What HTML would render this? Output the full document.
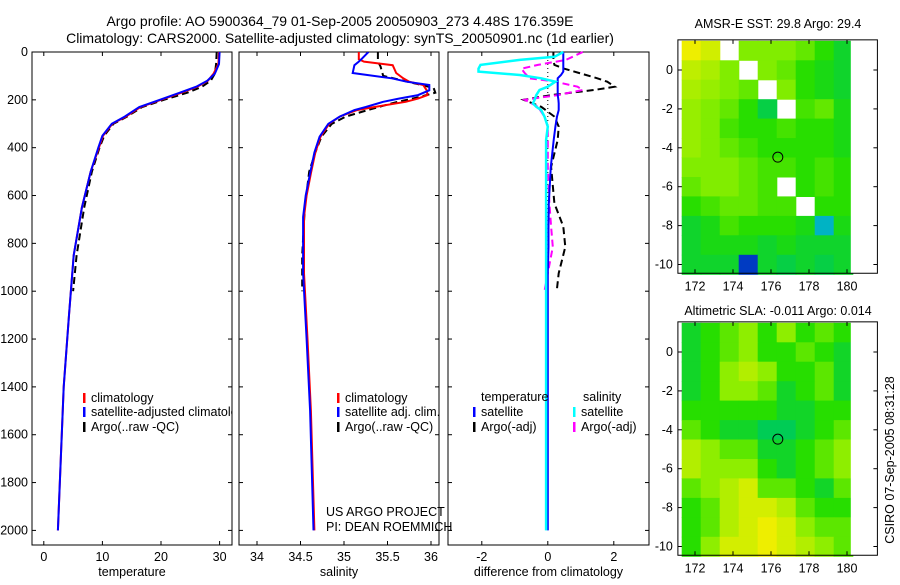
<!DOCTYPE html>
<html><head><meta charset="utf-8"><style>
body{margin:0;background:#fff;}
svg text{font-family:"Liberation Sans",sans-serif;font-size:12.5px;fill:#000;}
</style></head><body>
<svg id="fig" width="900" height="580" viewBox="0 0 900 580">
<text x="340" y="26" text-anchor="middle" style="font-size:14px">Argo profile: AO 5900364_79 01-Sep-2005 20050903_273 4.48S 176.359E</text>
<text x="340" y="43" text-anchor="middle" style="font-size:14px">Climatology: CARS2000. Satellite-adjusted climatology: synTS_20050901.nc (1d earlier)</text>
<g id="g1"></g>
<g id="g2"></g>
<g id="g3"></g>
<g id="m1"></g>
<g id="m2"></g>
<text transform="translate(894,460) rotate(-90)" text-anchor="middle">CSIRO 07-Sep-2005 08:31:28</text>
</svg>
<script>
// ---- data ----
const depthTicks=[0,200,400,600,800,1000,1200,1400,1600,1800,2000];
const tDepth=[0,50,90,120,145,170,200,230,270,300,350,400,500,650,850,1100,1400,1700,2000];
const tClim=[29.9,29.8,29.0,28.0,26.2,23.5,20.0,16.5,14.0,11.7,10.1,9.4,8.0,6.5,5.1,4.3,3.4,2.9,2.4];
const tSat=[30.0,29.9,29.2,27.9,26.0,23.2,19.8,16.3,13.8,11.6,10.0,9.3,8.0,6.5,5.1,4.3,3.4,2.9,2.4];
const aDepth=[0,50,90,120,145,170,200,230,270,300,350,400,500,650,850,1000];
const tArgo=[29.5,29.4,29.2,28.5,27.0,24.5,20.5,16.8,14.2,11.9,10.3,9.5,8.2,6.9,5.6,5.0];
const sDepth=[0,30,40,55,88,110,124,138,160,180,195,208,230,243,270,300,354,420,507,600,690,925,1200,1500,2000];
const sClim=[35.17,35.17,35.23,35.56,35.6,35.68,35.75,35.91,35.95,35.96,35.85,35.71,35.35,35.15,34.95,34.83,34.73,34.67,34.62,34.57,34.54,34.54,34.58,34.62,34.66];
const sSat=[35.28,35.2,35.17,35.12,35.1,35.55,35.72,35.98,35.98,35.85,35.63,35.45,35.25,35.12,34.95,34.82,34.72,34.66,34.61,34.56,34.53,34.53,34.57,34.61,34.65];
const saDepth=[0,40,60,100,130,150,170,190,210,240,270,300,354,420,500,650,850,1000];
const sArgo=[35.39,35.39,35.42,35.45,35.8,36.03,36.05,35.85,35.6,35.3,35.02,34.86,34.74,34.67,34.6,34.55,34.52,34.52];
const dDepth=[0,20,33,54,70,82,96,110,124,145,159,180,200,215,229,243,270,312,368,480,633,730,815,925,1000,1500,2000];
const dTsat=[0.47,0.47,0.47,0.47,0.47,0.47,0.4,0.3,0.3,0.3,0.3,0.3,0.32,0.33,0.33,0.33,0.28,0.23,0.18,0.09,0.03,0.02,0.02,0,0,0,0];
const dSsat=[0.47,0.2,-0.85,-2.04,-2.1,-2.1,-0.85,-0.2,0.23,0,-0.25,-0.35,-0.4,-0.45,-0.35,-0.2,-0.1,0,-0.05,-0.05,-0.05,-0.05,-0.05,-0.05,-0.05,-0.05,-0.05];
const daDepth=[0,33,54,70,88,110,124,145,159,180,200,229,270,312,368,480,633,730,815,925,1000];
const dTargo=[0.17,0.17,0.2,0.5,0.95,1.5,1.8,2.03,1.4,0.1,-0.73,-0.2,0.2,0.33,0.3,0.1,0.2,0.47,0.53,0.33,0.27];
const dSargo=[1.06,0.55,-0.3,-0.8,-0.7,-0.55,0.23,0.9,1.06,0.3,-0.7,-0.3,-0.1,0,0,0,0.05,0.1,0.15,0,-0.1];
const tTicks=[0,10,20,30];
const sTicks=[34,34.5,35,35.5,36];
const dTicks=[-2,0,2];
const lonTicks=[172,174,176,178,180];
const latTicks=[0,-2,-4,-6,-8,-10];
const gridLon=[171.3,172.3,173.3,174.3,175.3,176.3,177.3,178.3,179.3];
const gridLat=[1.5,0.5,-0.5,-1.5,-2.5,-3.5,-4.5,-5.5,-6.5,-7.5,-8.5,-9.5];
const sstGrid=[
[30.5,30.3,null,29.9,29.9,29.9,29.8,29.6,29.4],
[30.2,30.1,29.9,null,29.9,29.8,29.6,29.5,29.4],
[30.1,30.0,29.9,29.8,null,29.9,29.6,29.5,29.4],
[30.0,29.9,29.8,29.6,29.3,null,29.7,29.8,29.5],
[30.0,29.9,29.7,29.6,29.6,29.7,29.6,29.6,29.5],
[30.0,29.9,29.8,29.7,29.6,29.6,29.6,29.6,29.5],
[29.9,29.9,29.9,29.8,29.7,29.7,29.6,29.7,29.6],
[29.8,29.9,29.9,29.8,29.7,null,29.6,29.7,29.6],
[29.6,29.7,29.8,29.8,29.7,29.7,null,29.6,29.6],
[29.4,29.5,29.7,29.6,29.6,29.6,29.5,28.9,29.5],
[29.4,29.5,29.5,29.5,29.4,29.5,29.4,29.4,29.4],
[29.4,29.4,29.4,28.4,29.4,29.3,29.4,29.3,29.4]];
const slaGrid=[
[-0.01,0,0.01,0.02,0,0.02,0,0.01,0],
[-0.01,0,0.01,0.02,0,0,0.01,0,-0.01],
[-0.01,0,0.02,0.03,0.02,0,0,0.01,-0.01],
[-0.01,0,0.02,0.02,0.01,-0.01,0,0.01,-0.01],
[0,0,0,0,0,-0.01,-0.01,0,0],
[0.01,0,-0.01,-0.01,-0.02,-0.02,-0.01,0,0.01],
[0.03,0.02,0.01,0.01,-0.01,-0.01,0,0.01,0.02],
[0.03,0.02,0.02,0.02,0,-0.01,0,0.01,0.02],
[0.01,0.02,0.03,0.04,0.01,0.01,0,-0.01,0.01],
[0,0.01,0.03,0.04,0.04,0.03,0.01,0,0],
[0,0.01,0.03,0.04,0.05,0.04,0.02,0.01,0.01],
[0,0.02,0.04,0.04,0.05,0.04,0.03,0.02,0.01]];
const floatLon=176.359, floatLat=-4.48;

// ---- helpers ----
const NS='http://www.w3.org/2000/svg';
function mk(tag,attrs,parent){const e=document.createElementNS(NS,tag);for(const k in attrs)e.setAttribute(k,attrs[k]);parent.appendChild(e);return e;}
const Y=d=>52+d*0.2392;
function panel(g,x0,x1,X,ticks,fmt,label,showY){
  const f=mk('rect',{x:x0,y:52,width:x1-x0,height:545-52,fill:'none',stroke:'#000','stroke-width':1},g);
  
  
  depthTicks.forEach(d=>{
    mk('line',{x1:x0,x2:x0+4,y1:Y(d),y2:Y(d),stroke:'#000'},g);
    mk('line',{x1:x1-4,x2:x1,y1:Y(d),y2:Y(d),stroke:'#000'},g);
    if(showY){const t=mk('text',{x:x0-4,y:Y(d)+4,'text-anchor':'end'},g);t.textContent=d;
      
      }
  });
  ticks.forEach(v=>{
    mk('line',{x1:X(v),x2:X(v),y1:545,y2:541,stroke:'#000'},g);
    mk('line',{x1:X(v),x2:X(v),y1:52,y2:56,stroke:'#000'},g);
    const t=mk('text',{x:X(v),y:561,'text-anchor':'middle'},g);t.textContent=fmt(v);
    
    
  });
  const l=mk('text',{x:(x0+x1)/2,y:576,'text-anchor':'middle'},g);l.textContent=label;
  
  
}
function line(g,X,depths,vals,color,dash,w,name){
  const p=depths.map((d,i)=>X(vals[i]).toFixed(1)+','+Y(d).toFixed(1)).join(' ');
  const e=mk('polyline',{points:p,fill:'none',stroke:color,'stroke-width':w||2,'stroke-dasharray':dash||'none'},g);
  
  
}
function legend(g,x,y,color,txt,name){
  mk('rect',{x:x,y:y-9,width:2.5,height:10,fill:color},g);
  const t=mk('text',{x:x+8,y:y},g);t.textContent=txt;
  
  
}
// panel 1
const g1=document.getElementById('g1');
const X1=v=>43.8+v*5.86;
const c1=mk('clipPath',{id:'c1'},g1);mk('rect',{x:32,y:52,width:200,height:493},c1);
panel(g1,32,232,X1,tTicks,v=>v,'temperature',true);
const l1=mk('g',{'clip-path':'url(#c1)'},g1);
line(l1,X1,aDepth,tArgo,'#000','7,4',2,'temp-argo-line');
line(l1,X1,tDepth,tClim,'#f00','',2,'temp-climatology-line');
line(l1,X1,tDepth,tSat,'#00f','',2,'temp-satellite-line');
legend(l1,83,402,'#f00','climatology','legend-climatology');
legend(l1,83,416,'#00f','satellite-adjusted climatology','legend-satellite-adjusted');
legend(l1,83,431,'#000','Argo(..raw -QC)','legend-argo');
// panel 2
const g2=document.getElementById('g2');
const X2=v=>257+(v-34)*87;
const c2=mk('clipPath',{id:'c2'},g2);mk('rect',{x:239,y:52,width:200,height:493},c2);
panel(g2,239,439,X2,sTicks,v=>v,'salinity',false);
const l2=mk('g',{'clip-path':'url(#c2)'},g2);
line(l2,X2,saDepth,sArgo,'#000','7,4',2,'sal-argo-line');
line(l2,X2,sDepth,sClim,'#f00','',2,'sal-climatology-line');
line(l2,X2,sDepth,sSat,'#00f','',2,'sal-satellite-line');
legend(l2,337,402,'#f00','climatology','legend-climatology');
legend(l2,337,416,'#00f','satellite adj. clim.','legend-satellite-adj');
legend(l2,337,431,'#000','Argo(..raw -QC)','legend-argo');
const pt=mk('text',{x:326,y:516},g2);pt.textContent='US ARGO PROJECT';


const pi=mk('text',{x:326,y:531},g2);pi.textContent='PI: DEAN ROEMMICH';


// panel 3
const g3=document.getElementById('g3');
const X3=v=>547.8+v*33;
panel(g3,448,649,X3,dTicks,v=>v,'difference from climatology',false);
mk('line',{x1:X3(0),x2:X3(0),y1:Y(0),y2:Y(1000),stroke:'#000','stroke-dasharray':'1,3'},g3);
line(g3,X3,daDepth,dTargo,'#000','7,4',2,'diff-temp-argo-line');
line(g3,X3,daDepth,dSargo,'#f0f','7,4',2,'diff-sal-argo-line');
line(g3,X3,dDepth,dTsat,'#00f','',2,'diff-temp-satellite-line');
line(g3,X3,dDepth,dSsat,'#0ff','',2.5,'diff-sal-satellite-line');
const th=mk('text',{x:481,y:401},g3);th.textContent='temperature';


const sh=mk('text',{x:583,y:401},g3);sh.textContent='salinity';


legend(g3,473,416,'#00f','satellite','legend-temp-satellite');
legend(g3,473,431,'#000','Argo(-adj)','legend-temp-argo');
legend(g3,573,416,'#0ff','satellite','legend-sal-satellite');
legend(g3,573,431,'#f0f','Argo(-adj)','legend-sal-argo');

// ---- maps ----
const stops=[[0,[0,0,170]],[0.25,[0,170,238]],[0.45,[0,204,85]],[0.6,[34,221,0]],[0.75,[136,238,0]],[0.9,[204,238,0]],[1,[238,238,0]]];
function cmap(t){t=Math.max(0,Math.min(1,t));for(let i=1;i<stops.length;i++){if(t<=stops[i][0]){const a=stops[i-1],b=stops[i],f=(t-a[0])/(b[0]-a[0]);const c=a[1].map((v,k)=>Math.round(v+(b[1][k]-v)*f));return 'rgb('+c.join(',')+')';}}return 'rgb(238,238,0)';}
function map(id,lat0y,grid,norm,title,titleY){
  const g=document.getElementById(id);
  const MX=lon=>695+(lon-172)*19;
  const MY=lat=>lat0y-lat*19.45;
  grid.forEach((row,r)=>row.forEach((v,c)=>{
    if(v===null)return;
    const x=MX(gridLon[c]),y=MY(gridLat[r]);
    const cell=mk('rect',{x:x.toFixed(1),y:y.toFixed(1),width:19.6,height:20,fill:cmap(norm(v))},g);
    
    
  }));
  const top=MY(1.55),bot=MY(-10.45);
  mk('rect',{x:MX(180.2),y:top,width:MX(181.6)-MX(180.2),height:bot-top,fill:'#fff'},g);
  const fr=mk('rect',{x:MX(171.1),y:top,width:MX(181.6)-MX(171.1),height:bot-top,fill:'none',stroke:'#000'},g);
  
  
  lonTicks.forEach(l=>{mk('line',{x1:MX(l),x2:MX(l),y1:bot,y2:bot-4,stroke:'#000'},g);mk('line',{x1:MX(l),x2:MX(l),y1:top,y2:top+4,stroke:'#000'},g);
    const t=mk('text',{x:MX(l),y:bot+17,'text-anchor':'middle'},g);t.textContent=l;
    
    });
  latTicks.forEach(l=>{mk('line',{x1:MX(171.1),x2:MX(171.1)+4,y1:MY(l),y2:MY(l),stroke:'#000'},g);mk('line',{x1:MX(181.6)-4,x2:MX(181.6),y1:MY(l),y2:MY(l),stroke:'#000'},g);
    const t=mk('text',{x:MX(171.1)-5,y:MY(l)+4,'text-anchor':'end'},g);t.textContent=l;
    
    });
  const c=mk('circle',{cx:MX(floatLon),cy:MY(floatLat),r:5,fill:'none',stroke:'#000'},g);
  
  
  const t=mk('text',{x:778,y:titleY,'text-anchor':'middle'},g);t.textContent=title;
  
  
}
map('m1',70,sstGrid,v=>(v-28.2)/2.3,'AMSR-E SST: 29.8 Argo: 29.4',28);
map('m2',352,slaGrid,v=>0.45+(v+0.02)/0.07*0.55,'Altimetric SLA: -0.011 Argo: 0.014',315);
</script>
</body></html>
